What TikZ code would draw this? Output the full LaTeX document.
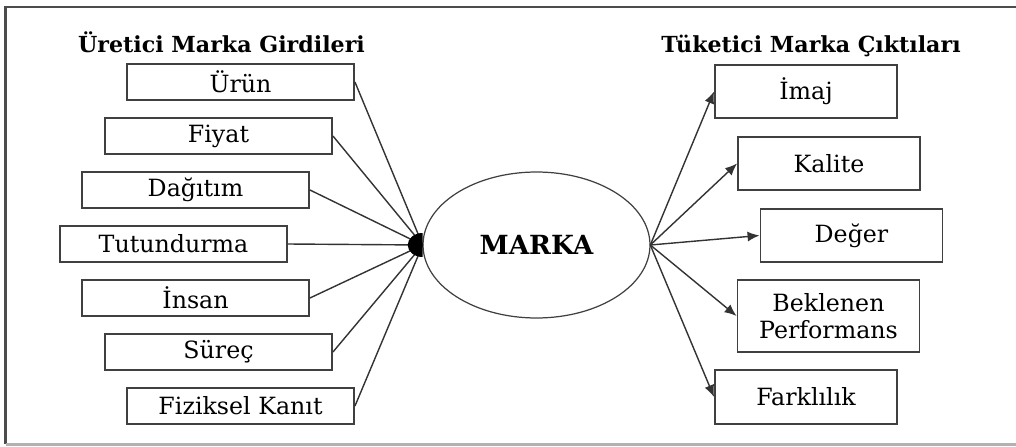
\documentclass[tikz,border=0pt]{standalone}
\usepackage{fontspec}
\setmainfont{DejaVu Serif}
\usetikzlibrary{arrows.meta,shapes.geometric}

\tikzset{
  kutu/.style={draw=black!75, line width=1.1pt, inner sep=0pt, font=\fontsize{13.5}{15}\selectfont},
  girdi/.style={kutu, minimum width=4.54cm, minimum height=0.72cm},
  cikti/.style={kutu, minimum width=3.64cm, minimum height=1.07cm, align=center},
  baslik/.style={anchor=base, font=\fontsize{12.6}{14}\selectfont\bfseries},
  bag/.style={draw=black!80, line width=0.8pt},
  ok/.style={bag, -{Latex[length=2.4mm,width=2mm]}},
}

\begin{document}
\begin{tikzpicture}[x=0.02cm, y=-0.02cm]
  %%%%% START %%%%%
  \useasboundingbox (0,0) rectangle (1016,446);

  % frame
  \draw[black!70, line width=1.2pt] (1016,7) -- (5.5,7) -- (5.5,444);
  \draw[black!30, line width=1.2pt] (5.5,444.5) -- (1016,444.5);

  % titles
  \node[baslik] (tgir) at (221.5,52) {Üretici Marka Girdileri};
  \node[baslik] (tcik) at (811,52) {Tüketici Marka Çıktıları};

  % inputs
  \node[girdi] (urun) at (240.5,82) {Ürün};
  \node[girdi] (fiyat) at (218.5,136) {Fiyat};
  \node[girdi] (dagitim) at (195.5,190) {Dağıtım};
  \node[girdi] (tutun) at (173.5,244) {Tutundurma};
  \node[girdi] (insan) at (195.5,298) {İnsan};
  \node[girdi] (surec) at (218.5,352) {Süreç};
  \node[girdi] (fizik) at (240.5,406) {Fiziksel Kanıt};

  % outputs
  \node[cikti] (imaj) at (806,91.5) {İmaj};
  \node[cikti] (kalite) at (829,163.5) {Kalite};
  \node[cikti] (deger) at (851.5,235.5) {Değer};
  \node[cikti, minimum height=1.44cm] (bekl) at (828.5,316) {Beklenen\\Performans};
  \node[cikti] (fark) at (806,397) {Farklılık};

  % brand
  \node[ellipse, minimum width=4.54cm, minimum height=2.92cm, inner sep=0pt] (marka) at (536.5,245) {};
  \draw[black!75, line width=0.7pt] (marka.center) ellipse (2.27cm and 1.46cm);
  \node[font=\fontsize{15}{17}\selectfont\bfseries] (mtext) at (marka.center) {MARKA};

  \foreach \g in {urun,fiyat,dagitim,tutun,insan,surec,fizik}
    \draw[bag] (\g.east) -- (marka.west);
  \fill[black] (marka.west) ++(0,-12) arc (90:270:0.3cm and 0.24cm) -- cycle;

  \foreach \c in {imaj,kalite,deger,bekl,fark}
    \draw[ok] (marka.east) -- (\c.west);
  %%%%% END %%%%%
\end{tikzpicture}
\end{document}
